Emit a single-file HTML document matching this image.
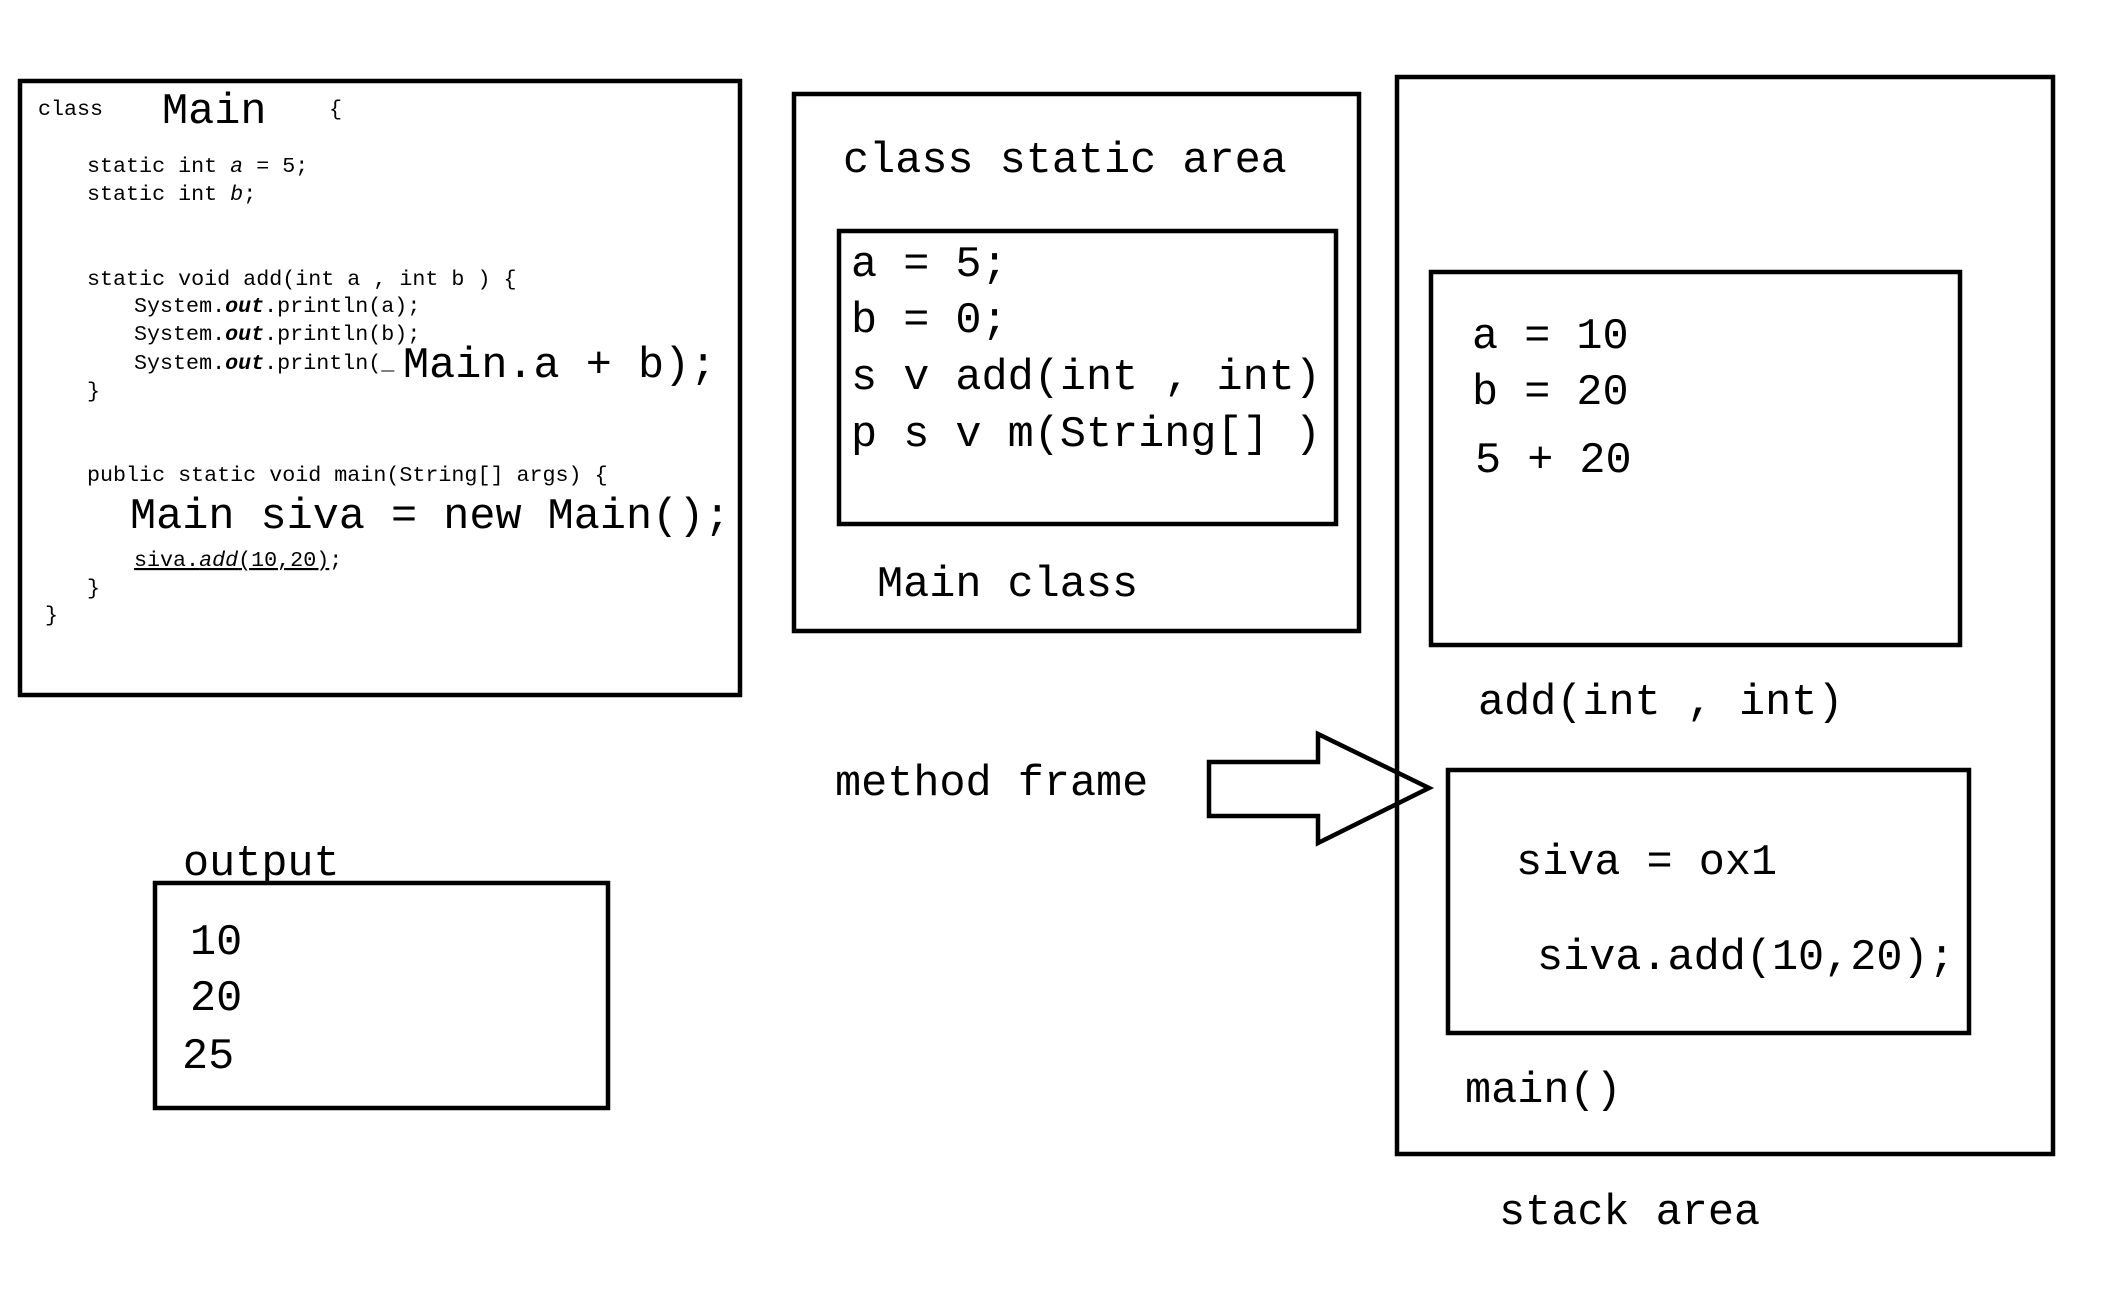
<!DOCTYPE html>
<html><head><meta charset="utf-8"><style>
html,body{margin:0;padding:0;background:#fff;}
svg{display:block}
text{font-family:"Liberation Mono",monospace;fill:#000}
.b{font-size:43.5px}
.s{font-size:21.7px}
</style></head><body>
<svg width="2127" height="1314" viewBox="0 0 2127 1314" xmlns="http://www.w3.org/2000/svg">
<g fill="none" stroke="#000" stroke-width="4.5">
<rect x="20" y="81" width="720" height="614"/>
<rect x="794" y="94" width="565" height="537"/>
<rect x="839" y="231" width="497" height="293"/>
<rect x="1397" y="77" width="656" height="1077"/>
<rect x="1431" y="272" width="529" height="373"/>
<rect x="1448" y="770" width="521" height="263"/>
<rect x="155" y="883" width="453" height="225"/>
<polygon points="1209,762 1318,762 1318,734 1429,788 1318,843 1318,816 1209,816" stroke-linejoin="miter"/>
</g>
<g transform="translate(0,-2)">
<text class="s" x="38" y="117">class</text>
<text class="b" x="162" y="125">Main</text>
<text class="s" x="329" y="117">{</text>
<text class="s" x="87" y="174">static int <tspan font-style="italic">a</tspan> = 5;</text>
<text class="s" x="87" y="202">static int <tspan font-style="italic">b</tspan>;</text>
<text class="s" x="87" y="287">static void add(int a , int b ) {</text>
<text class="s" x="134" y="314">System.<tspan font-weight="bold" font-style="italic">out</tspan>.println(a);</text>
<text class="s" x="134" y="342">System.<tspan font-weight="bold" font-style="italic">out</tspan>.println(b);</text>
<text class="s" x="134" y="371">System.<tspan font-weight="bold" font-style="italic">out</tspan>.println(_</text>
<text class="b" x="403" y="379">Main.a + b);</text>
<text class="s" x="87" y="399">}</text>
<text class="s" x="87" y="483">public static void main(String[] args) {</text>
<text class="b" x="130" y="530">Main siva = new Main();</text>
<text class="s" x="134" y="568"><tspan text-decoration="underline">siva.<tspan font-style="italic">add</tspan>(10,20)</tspan>;</text>
<text class="s" x="87" y="596">}</text>
<text class="s" x="45" y="623">}</text>
<text class="b" x="843" y="174">class static area</text>
<text class="b" x="851" y="278">a = 5;</text>
<text class="b" x="851" y="334">b = 0;</text>
<text class="b" x="851" y="391">s v add(int , int)</text>
<text class="b" x="851" y="448">p s v m(String[] )</text>
<text class="b" x="877" y="598">Main class</text>
<text class="b" x="1472" y="350">a = 10</text>
<text class="b" x="1472" y="406">b = 20</text>
<text class="b" x="1475" y="474">5 + 20</text>
<text class="b" x="1478" y="716">add(int , int)</text>
<text class="b" x="1516" y="876">siva = ox1</text>
<text class="b" x="1537" y="971">siva.add(10,20);</text>
<text class="b" x="1465" y="1104">main()</text>
<text class="b" x="1499" y="1226">stack area</text>
<text class="b" x="835" y="797">method frame</text>
<text class="b" x="183" y="877">output</text>
<text class="b" x="190" y="956">10</text>
<text class="b" x="190" y="1012">20</text>
<text class="b" x="182" y="1070">25</text>
</g>
</svg>
</body></html>
